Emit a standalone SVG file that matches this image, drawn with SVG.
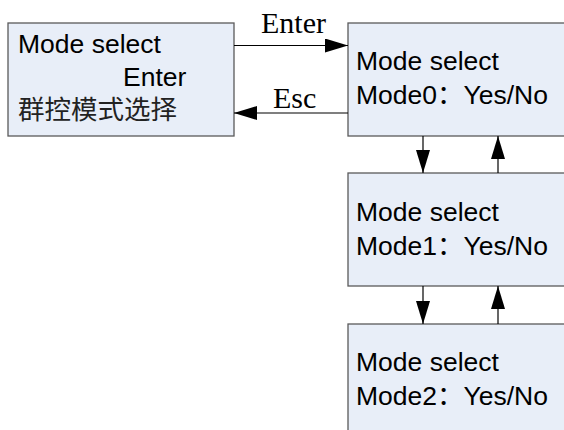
<svg xmlns="http://www.w3.org/2000/svg" width="564" height="430" viewBox="0 0 564 430">
  <style>
    .box { fill: #E8EEF8; stroke: #5a5a5a; stroke-width: 1.3; }
    .t { font-family: "Liberation Sans", Arial, "Noto Sans CJK SC", sans-serif; font-size: 26.5px; fill: #000; }
    .cjk { font-family: "Noto Sans CJK SC", "Liberation Sans", sans-serif; font-size: 26.5px; fill: #222; }
    .lbl { font-family: "Liberation Serif", "Times New Roman", serif; font-size: 30px; fill: #000; }
    .wire { stroke: #000; stroke-width: 1.2; fill: none; marker-end: url(#head); }
  </style>
  <defs>
    <marker id="head" markerUnits="userSpaceOnUse" markerWidth="24" markerHeight="14" viewBox="0 0 23 14" refX="23" refY="7" orient="auto">
      <path d="M0,0 L23,7 L0,14 Z" fill="#000"/>
    </marker>
  </defs>

  <rect width="564" height="430" fill="#fff"/>

  <g id="group-mode-menu">
    <rect class="box" x="8" y="23" width="226" height="113"/>
    <text class="t" x="18" y="53">Mode select</text>
    <text class="t" x="123" y="86">Enter</text>
    <text class="cjk" x="18" y="119">群控模式选择</text>
  </g>

  <g id="mode0">
    <rect class="box" x="348" y="23" width="240" height="113"/>
    <text class="t" x="356" y="70">Mode select</text>
    <text class="t" x="356" y="104">Mode0：Yes/No</text>
  </g>

  <g id="mode1">
    <rect class="box" x="348" y="173" width="240" height="113"/>
    <text class="t" x="356" y="221">Mode select</text>
    <text class="t" x="356" y="255">Mode1：Yes/No</text>
  </g>

  <g id="mode2">
    <rect class="box" x="348" y="324" width="240" height="113"/>
    <text class="t" x="356" y="371">Mode select</text>
    <text class="t" x="356" y="405">Mode2：Yes/No</text>
  </g>

  <g id="connectors">
    <line class="wire" x1="234" y1="45.5" x2="348" y2="45.5"/>
    <text class="lbl" x="261" y="33">Enter</text>
    <line class="wire" x1="348" y1="113" x2="234" y2="113"/>
    <text class="lbl" x="273" y="108">Esc</text>

    <line class="wire" x1="423" y1="136" x2="423" y2="173"/>
    <line class="wire" x1="498" y1="173" x2="498" y2="136"/>
    <line class="wire" x1="423" y1="286" x2="423" y2="324"/>
    <line class="wire" x1="498" y1="324" x2="498" y2="286"/>
  </g>
</svg>
